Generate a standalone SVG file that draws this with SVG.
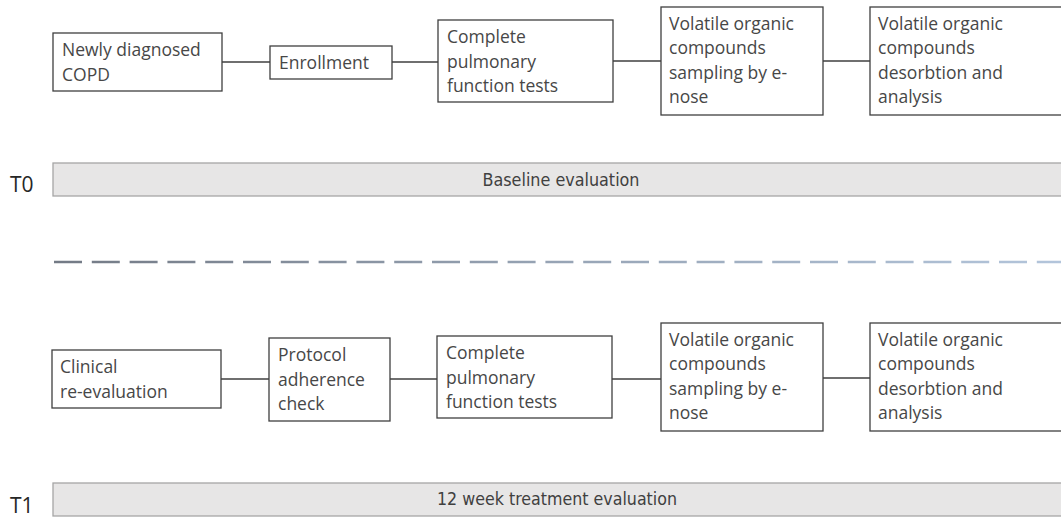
<svg xmlns="http://www.w3.org/2000/svg" width="1061" height="517" viewBox="0 0 1061 517">
<defs>
<linearGradient id="dashGrad" gradientUnits="userSpaceOnUse" x1="54" y1="262" x2="1061" y2="262">
<stop offset="0" stop-color="#737a85"/>
<stop offset="0.5" stop-color="#97a4b5"/>
<stop offset="1" stop-color="#b3c5db"/>
</linearGradient>
<style>
.box{fill:#ffffff;stroke:#3f3f3f;stroke-width:1.3}
.con{stroke:#3f3f3f;stroke-width:1.3;fill:none}
.t{font-family:"Open Sans","Noto Sans",sans-serif;font-size:17.5px;fill:#474747}
.band{fill:#e7e6e6;stroke:#a6a6a6;stroke-width:1.3}
.bt{font-family:"Liberation Sans Narrow","DejaVu Sans Condensed","Open Sans",sans-serif;font-stretch:condensed;font-size:17px;fill:#404040}
.lab{font-family:"Open Sans","Noto Sans",sans-serif;font-size:21px;fill:#262626}
</style>
</defs>
<rect width="1061" height="517" fill="#ffffff"/>

<g id="connectors">
<line class="con" x1="222" y1="62" x2="270" y2="62"/>
<line class="con" x1="392" y1="62" x2="438" y2="62"/>
<line class="con" x1="613" y1="61" x2="661" y2="61"/>
<line class="con" x1="823" y1="61" x2="870" y2="61"/>
<line class="con" x1="221" y1="379" x2="269" y2="379"/>
<line class="con" x1="390" y1="379" x2="437" y2="379"/>
<line class="con" x1="612" y1="379" x2="661" y2="379"/>
<line class="con" x1="823" y1="378" x2="870" y2="378"/>
</g>

<g id="t0-newly">
<rect class="box" x="53" y="33" width="169" height="58"/>
<text class="t" x="62" y="56">Newly diagnosed</text>
<text class="t" x="62" y="81">COPD</text>
</g>
<g id="t0-enrollment">
<rect class="box" x="270" y="46" width="122" height="33"/>
<text class="t" x="279" y="69">Enrollment</text>
</g>
<g id="t0-pft">
<rect class="box" x="438" y="20" width="175" height="82"/>
<text class="t" x="447" y="43">Complete</text>
<text class="t" x="447" y="67.5">pulmonary</text>
<text class="t" x="447" y="92">function tests</text>
</g>
<g id="t0-sampling">
<rect class="box" x="661" y="7" width="162" height="108"/>
<text class="t" x="669" y="29.5">Volatile organic</text>
<text class="t" x="669" y="54">compounds</text>
<text class="t" x="669" y="78.5">sampling by e-</text>
<text class="t" x="669" y="103">nose</text>
</g>
<g id="t0-analysis">
<rect class="box" x="870" y="7" width="200" height="108"/>
<text class="t" x="878" y="29.5">Volatile organic</text>
<text class="t" x="878" y="54">compounds</text>
<text class="t" x="878" y="78.5">desorbtion and</text>
<text class="t" x="878" y="103">analysis</text>
</g>

<g id="t0-band">
<text class="lab" x="10" y="192">T0</text>
<rect class="band" x="53" y="163" width="1020" height="33"/>
<text class="bt" x="561" y="186" text-anchor="middle" textLength="157" lengthAdjust="spacingAndGlyphs">Baseline evaluation</text>
</g>

<g id="divider">
<line x1="54" y1="262" x2="1061" y2="262" stroke="url(#dashGrad)" stroke-width="2.6" stroke-dasharray="28 9.8"/>
</g>

<g id="t1-clinical">
<rect class="box" x="52" y="350" width="169" height="58"/>
<text class="t" x="60" y="373">Clinical</text>
<text class="t" x="60" y="398">re-evaluation</text>
</g>
<g id="t1-protocol">
<rect class="box" x="269" y="338" width="121" height="83"/>
<text class="t" x="278" y="361">Protocol</text>
<text class="t" x="278" y="385.5">adherence</text>
<text class="t" x="278" y="410">check</text>
</g>
<g id="t1-pft">
<rect class="box" x="437" y="336" width="175" height="82"/>
<text class="t" x="446" y="359">Complete</text>
<text class="t" x="446" y="383.5">pulmonary</text>
<text class="t" x="446" y="408">function tests</text>
</g>
<g id="t1-sampling">
<rect class="box" x="661" y="323" width="162" height="108"/>
<text class="t" x="669" y="345.5">Volatile organic</text>
<text class="t" x="669" y="370">compounds</text>
<text class="t" x="669" y="394.5">sampling by e-</text>
<text class="t" x="669" y="419">nose</text>
</g>
<g id="t1-analysis">
<rect class="box" x="870" y="323" width="200" height="108"/>
<text class="t" x="878" y="345.5">Volatile organic</text>
<text class="t" x="878" y="370">compounds</text>
<text class="t" x="878" y="394.5">desorbtion and</text>
<text class="t" x="878" y="419">analysis</text>
</g>

<g id="t1-band">
<text class="lab" x="10" y="513">T1</text>
<rect class="band" x="53" y="483" width="1020" height="33"/>
<text class="bt" x="557" y="505" text-anchor="middle" textLength="240" lengthAdjust="spacingAndGlyphs">12 week treatment evaluation</text>
</g>
</svg>
